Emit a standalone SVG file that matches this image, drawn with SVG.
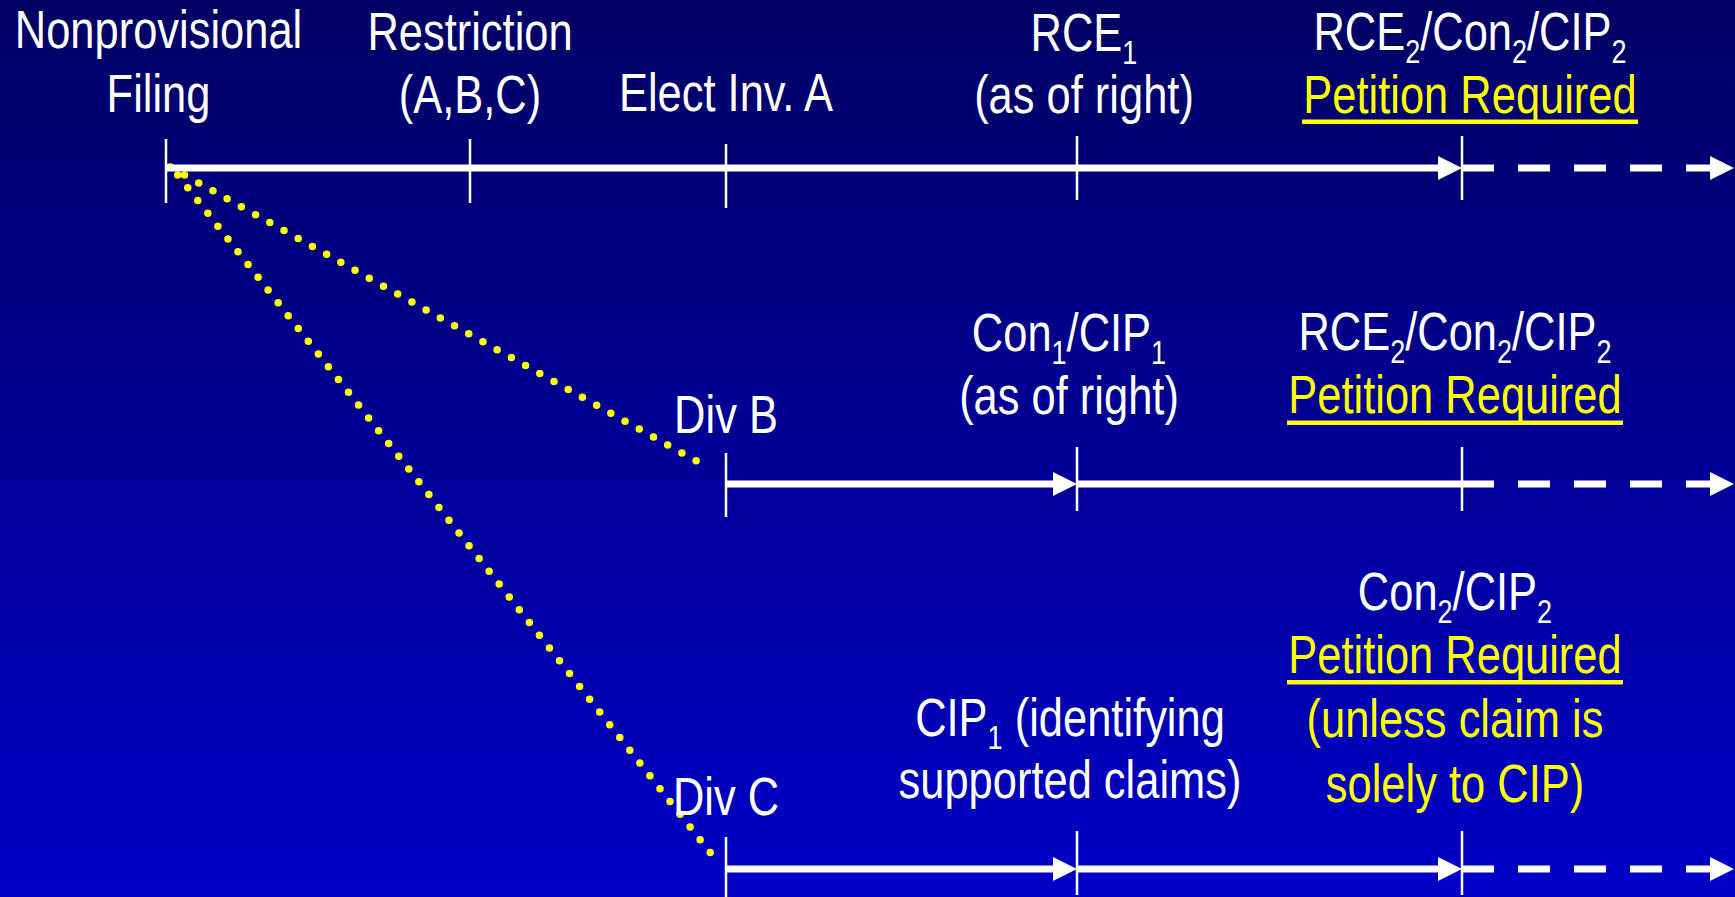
<svg xmlns="http://www.w3.org/2000/svg" width="1735" height="897" viewBox="0 0 1735 897">
<defs>
<linearGradient id="bg" x1="0" y1="0" x2="0" y2="1">
<stop offset="0" stop-color="#000064"/>
<stop offset="1" stop-color="#0000C8"/>
</linearGradient>
<marker id="arrow" markerUnits="userSpaceOnUse" markerWidth="24" markerHeight="24" refX="0" refY="12" orient="auto" viewBox="0 0 24 24">
<path d="M0,0 L24,12 L0,24 z" fill="#fff"/>
</marker>
</defs>
<style>
.t{font-family:"Liberation Sans",Arial,Helvetica,sans-serif;font-size:53px;fill:#fff;text-anchor:middle}
.y{fill:#ff0}
.sub{font-size:33px}
.tick{stroke:#fff;stroke-width:2.5}
.line{stroke:#fff;stroke-width:7;fill:none}
.dash{stroke:#fff;stroke-width:7;fill:none;stroke-dasharray:32 24}
.dot{stroke:#ff0;stroke-width:7.5;stroke-linecap:round;fill:none}
.ul{fill:#ff0}
</style>
<rect x="0" y="0" width="1735" height="897" fill="url(#bg)"/>

<g id="connectors">
<path class="dot" d="M170.3,167 L710.3,468.8" stroke-dasharray="0 16.28"/>
<path class="dot" d="M177.7,175 L710.3,852.7" stroke-dasharray="0 16.26"/>
<path class="line" d="M166,168 H1438" marker-end="url(#arrow)"/>
<path class="dash" d="M1462,168 H1710" marker-end="url(#arrow)"/>
<path class="line" d="M726,484 H1053" marker-end="url(#arrow)"/>
<path class="line" d="M1077,484 H1462"/>
<path class="dash" d="M1462,484 H1710" marker-end="url(#arrow)"/>
<path class="line" d="M726,869 H1053" marker-end="url(#arrow)"/>
<path class="line" d="M1077,869 H1438" marker-end="url(#arrow)"/>
<path class="dash" d="M1462,869 H1710" marker-end="url(#arrow)"/>
</g>

<g id="filing">
<line class="tick" x1="166" y1="139" x2="166" y2="203"/>
<text class="t" transform="translate(158.5,48) scale(0.82,1)"><tspan x="0" y="0">Nonprovisional</tspan><tspan x="0" y="64">Filing</tspan></text>
</g>
<g id="restriction">
<line class="tick" x1="470" y1="139" x2="470" y2="203"/>
<text class="t" transform="translate(470,50) scale(0.82,1)"><tspan x="0" y="0">Restriction</tspan><tspan x="0" y="63">(A,B,C)</tspan></text>
</g>
<g id="elect">
<line class="tick" x1="726" y1="144" x2="726" y2="208"/>
<text class="t" transform="translate(726,111) scale(0.82,1)"><tspan x="0" y="0">Elect Inv. A</tspan></text>
</g>
<g id="rce1">
<line class="tick" x1="1077" y1="136" x2="1077" y2="200"/>
<text class="t" transform="translate(1084,51) scale(0.82,1)"><tspan x="0" y="0">RCE<tspan class="sub" dy="13">1</tspan></tspan><tspan x="0" y="62">(as of right)</tspan></text>
</g>
<g id="rce2-top">
<line class="tick" x1="1462" y1="136" x2="1462" y2="200"/>
<text class="t" transform="translate(1470,50) scale(0.82,1)"><tspan x="0" y="0">RCE<tspan class="sub" dy="13">2</tspan><tspan dy="-13">/Con</tspan><tspan class="sub" dy="13">2</tspan><tspan dy="-13">/CIP</tspan><tspan class="sub" dy="13">2</tspan></tspan><tspan class="y" x="0" y="63">Petition Required</tspan></text>
<rect class="ul" x="1302" y="119.5" width="336" height="4.5"/>
</g>

<g id="div-b">
<line class="tick" x1="726" y1="453" x2="726" y2="517"/>
<text class="t" transform="translate(726,433) scale(0.82,1)"><tspan x="0" y="0">Div B</tspan></text>
</g>
<g id="con1">
<line class="tick" x1="1077" y1="447" x2="1077" y2="511"/>
<text class="t" transform="translate(1069,351) scale(0.82,1)"><tspan x="0" y="0">Con<tspan class="sub" dy="13">1</tspan><tspan dy="-13">/CIP</tspan><tspan class="sub" dy="13">1</tspan></tspan><tspan x="0" y="63">(as of right)</tspan></text>
</g>
<g id="rce2-mid">
<line class="tick" x1="1462" y1="447" x2="1462" y2="511"/>
<text class="t" transform="translate(1455,350) scale(0.82,1)"><tspan x="0" y="0">RCE<tspan class="sub" dy="13">2</tspan><tspan dy="-13">/Con</tspan><tspan class="sub" dy="13">2</tspan><tspan dy="-13">/CIP</tspan><tspan class="sub" dy="13">2</tspan></tspan><tspan class="y" x="0" y="63">Petition Required</tspan></text>
<rect class="ul" x="1287" y="420.5" width="336" height="4.5"/>
</g>

<g id="div-c">
<line class="tick" x1="726" y1="837" x2="726" y2="901"/>
<text class="t" transform="translate(726,815) scale(0.82,1)"><tspan x="0" y="0">Div C</tspan></text>
</g>
<g id="cip1">
<line class="tick" x1="1077" y1="831" x2="1077" y2="895"/>
<text class="t" transform="translate(1070,736) scale(0.82,1)"><tspan x="0" y="0">CIP<tspan class="sub" dy="13">1</tspan><tspan dy="-13"> (identifying</tspan></tspan><tspan x="0" y="62">supported claims)</tspan></text>
</g>
<g id="con2">
<line class="tick" x1="1462" y1="831" x2="1462" y2="895"/>
<text class="t" transform="translate(1455,610) scale(0.82,1)"><tspan x="0" y="0">Con<tspan class="sub" dy="13">2</tspan><tspan dy="-13">/CIP</tspan><tspan class="sub" dy="13">2</tspan></tspan><tspan class="y" x="0" y="63">Petition Required</tspan><tspan class="y" x="0" y="127">(unless claim is</tspan><tspan class="y" x="0" y="192">solely to CIP)</tspan></text>
<rect class="ul" x="1287" y="680" width="336" height="4.5"/>
</g>
</svg>
